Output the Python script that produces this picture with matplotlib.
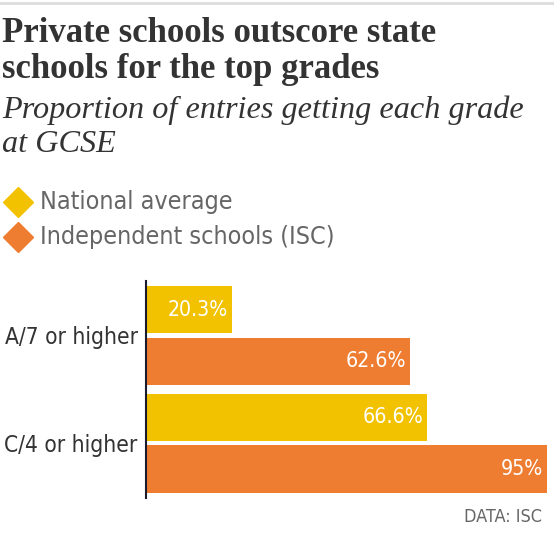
import matplotlib.pyplot as plt
from matplotlib.lines import Line2D

grades = ["A/7 or higher", "C/4 or higher"]
national = [20.3, 66.6]
independent = [62.6, 95]
national_labels = ["20.3%", "66.6%"]
independent_labels = ["62.6%", "95%"]

YELLOW = "#F2C200"
ORANGE = "#EE7D31"

W, H = 554, 534
fig = plt.figure(figsize=(W / 100, H / 100), dpi=100)

# condensed sans for the labels
NARROW = dict(family="DejaVu Sans", stretch="condensed")

def fx(px):
    return px / W

def fy(py):
    return 1 - py / H

# thin rule at top
fig.add_artist(Line2D([0, 1], [fy(3), fy(3)], color="#dddddd", lw=2))

fig.text(fx(2), fy(34), "Private schools outscore state", family="Liberation Serif",
         weight="bold", fontsize=25, color="#333333", va="center")
fig.text(fx(2), fy(70), "schools for the top grades", family="Liberation Serif",
         weight="bold", fontsize=25, color="#333333", va="center")
fig.text(fx(2), fy(110), "Proportion of entries getting each grade", family="Liberation Serif",
         style="italic", fontsize=23.2, color="#333333", va="center")
fig.text(fx(2), fy(144), "at GCSE", family="Liberation Serif",
         style="italic", fontsize=23.2, color="#333333", va="center")

# legend
for py, col, lab in [(202, YELLOW, "National average"), (237, ORANGE, "Independent schools (ISC)")]:
    fig.add_artist(Line2D([fx(18)], [fy(py)], marker="D", markersize=15.5, color=col, lw=0))
    fig.text(fx(40), fy(py), lab, fontsize=18, color="#666666", va="center", **NARROW)

ax = fig.add_axes([fx(146), fy(498), fx(547) - fx(146), fy(281) - fy(498)])
pos = [0, 1]
off = 0.24
h = 0.44
ax.barh([p - off for p in pos], national, height=h, color=YELLOW)
ax.barh([p + off for p in pos], independent, height=h, color=ORANGE)

for p, v, lab in zip(pos, national, national_labels):
    ax.text(v - 1.0, p - off, lab, ha="right", va="center", color="white",
            fontsize=15.2, **NARROW)
for p, v, lab in zip(pos, independent, independent_labels):
    ax.text(v - 1.0, p + off, lab, ha="right", va="center", color="white",
            fontsize=15.2, **NARROW)

ax.set_xlim(0, 95)
ax.set_ylim(1.51, -0.505)
ax.set_yticks(pos)
ax.set_yticklabels(grades, fontsize=16.3, color="#333333", **NARROW)
ax.tick_params(axis="y", length=0, pad=6)
ax.set_xticks([])
for s in ["top", "right", "bottom"]:
    ax.spines[s].set_visible(False)
ax.spines["left"].set_color("#1a1a2e")
ax.spines["left"].set_linewidth(1.5)

fig.text(fx(542), fy(517), "DATA: ISC", ha="right", va="center",
         fontsize=13, color="#666666", **NARROW)

fig.savefig("out.png", dpi=100)
